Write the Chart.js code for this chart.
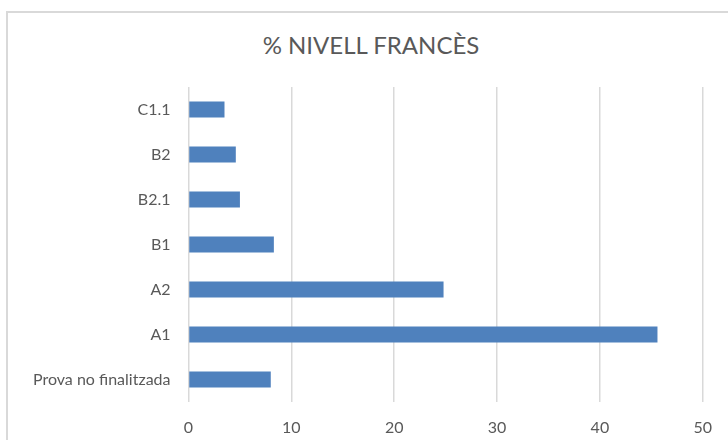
<!DOCTYPE html>
<html>
<head>
<meta charset="utf-8">
<script src="https://cdn.jsdelivr.net/npm/chart.js@4/dist/chart.umd.min.js"></script>
<style>
  html, body { margin: 0; padding: 0; background: #fff; overflow: hidden; }
  #wrap { position: relative; width: 728px; height: 440px; }
  #frame { position: absolute; left: 6px; top: 11px; width: 760px; height: 480px; border: 2px solid #d9d9d9; box-sizing: border-box; }
  #title { position: absolute; left: 171px; width: 400px; top: 28px; text-align: center; font-family: Lato, "Open Sans", sans-serif; font-size: 24px; color: #595959; line-height: 34px; }
  canvas { position: absolute; left: 0; top: 0; }
</style>
</head>
<body>
<div id="wrap">
  <div id="frame"></div>
  <div id="title">% NIVELL FRANCÈS</div>
  <canvas id="c" width="728" height="440"></canvas>
</div>
<script>
const categories = ["C1.1", "B2", "B2.1", "B1", "A2", "A1", "Prova no finalitzada"];
const values = [3.5, 4.6, 5.0, 8.3, 24.8, 45.6, 8.0];
const xTicks = [0, 10, 20, 30, 40, 50];

new Chart(document.getElementById('c'), {
  type: 'bar',
  data: {
    labels: categories,
    datasets: [{
      data: values,
      backgroundColor: '#4f81bd',
      borderColor: '#4f81bd',
      borderWidth: 0,
      barPercentage: 0.36,
      categoryPercentage: 1.0
    }]
  },
  options: {
    indexAxis: 'y',
    responsive: false,
    animation: false,
    layout: { padding: { left: 0, right: 25, top: 87, bottom: 0 } },
    plugins: { legend: { display: false }, title: { display: false }, tooltip: { enabled: false } },
    scales: {
      x: {
        min: xTicks[0],
        max: xTicks[xTicks.length - 1],
        afterBuildTicks: (s) => { s.ticks = xTicks.map(v => ({ value: v })); },
        afterFit: (s) => { s.height = 38; },
        grid: { color: '#d9d9d9', lineWidth: 1.5, drawTicks: false },
        border: { display: false },
        ticks: { color: '#595959', font: { family: 'Lato, "Open Sans", sans-serif', size: 16 }, padding: 16 }
      },
      y: {
        afterFit: (s) => { s.width = 188.5; },
        grid: { display: false, drawTicks: false },
        border: { display: false },
        ticks: { color: '#595959', font: { family: 'Lato, "Open Sans", sans-serif', size: 16 }, padding: 18 }
      }
    }
  }
});
</script>
</body>
</html>
